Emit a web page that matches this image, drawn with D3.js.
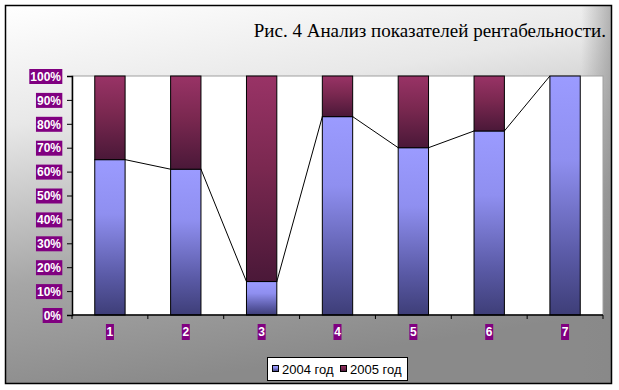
<!DOCTYPE html>
<html>
<head>
<meta charset="utf-8">
<script src="https://cdn.jsdelivr.net/npm/d3@7"></script>
<style>
  body { margin: 0; background: #fff; }
</style>
</head>
<body>
<script>
var categories = ["1", "2", "3", "4", "5", "6", "7"];
var v2004 = [65, 61, 14, 83, 70, 77, 100];
var v2005 = [35, 39, 86, 17, 30, 23, 0];
var seriesNames = ["2004 год", "2005 год"];
var yTicks = [0, 10, 20, 30, 40, 50, 60, 70, 80, 90, 100];

var w = 619, h = 390;
var pLeft = 72, pRight = 603, pTop = 76, pBottom = 315;

var svg = d3.select("body").append("svg")
    .attr("width", w)
    .attr("height", h);

var defs = svg.append("defs");

var bg = defs.append("linearGradient").attr("id", "bg")
    .attr("x1", 0).attr("y1", 0).attr("x2", 0.25).attr("y2", 1);
bg.append("stop").attr("offset", "0").attr("stop-color", "#ffffff");
bg.append("stop").attr("offset", "0.3").attr("stop-color", "#e8e8e8");
bg.append("stop").attr("offset", "0.7").attr("stop-color", "#a6a6a6");
bg.append("stop").attr("offset", "1").attr("stop-color", "#8a8a8a");

// darker towards the right edge
var bgR = defs.append("linearGradient").attr("id", "bgR")
    .attr("x1", 0).attr("y1", 0).attr("x2", 1).attr("y2", 0);
bgR.append("stop").attr("offset", "0.95").attr("stop-color", "#888").attr("stop-opacity", 0);
bgR.append("stop").attr("offset", "1").attr("stop-color", "#888").attr("stop-opacity", 0.6);

var g1 = defs.append("linearGradient").attr("id", "g2004")
    .attr("x1", 0).attr("y1", 0).attr("x2", 0).attr("y2", 1);
g1.append("stop").attr("offset", "0").attr("stop-color", "#9b9bff");
g1.append("stop").attr("offset", "0.35").attr("stop-color", "#8f8ff0");
g1.append("stop").attr("offset", "0.75").attr("stop-color", "#5a5aa6");
g1.append("stop").attr("offset", "1").attr("stop-color", "#3e3e78");

var g2 = defs.append("linearGradient").attr("id", "g2005")
    .attr("x1", 0).attr("y1", 0).attr("x2", 0).attr("y2", 1);
g2.append("stop").attr("offset", "0").attr("stop-color", "#993366");
g2.append("stop").attr("offset", "0.45").attr("stop-color", "#7a2850");
g2.append("stop").attr("offset", "1").attr("stop-color", "#4a1838");

// chart area
svg.append("rect")
    .attr("x", 5.5).attr("y", 5.5)
    .attr("width", 606).attr("height", 378)
    .attr("fill", "url(#bg)");
svg.append("rect")
    .attr("x", 5.5).attr("y", 5.5)
    .attr("width", 606).attr("height", 378)
    .attr("fill", "url(#bgR)")
    .attr("stroke", "#000")
    .attr("stroke-width", 1.5);

svg.append("text")
    .attr("x", 606)
    .attr("y", 37)
    .attr("text-anchor", "end")
    .attr("font-family", "'Liberation Serif', 'Times New Roman', serif")
    .attr("font-size", "19px")
    .attr("fill", "#000")
    .text("Рис. 4 Анализ показателей рентабельности.");

var xScale = d3.scaleBand()
    .domain(categories)
    .range([pLeft, pRight])
    .paddingInner(0.6)
    .paddingOuter(0.3);

var yScale = d3.scaleLinear()
    .domain([0, 100])
    .range([pBottom, pTop]);

// plot area
svg.append("rect")
    .attr("x", pLeft).attr("y", pTop)
    .attr("width", pRight - pLeft).attr("height", pBottom - pTop)
    .attr("fill", "#fff")
    .attr("stroke", "#a0a0a0")
    .attr("stroke-width", 1);

var data = categories.map(function(c, i) {
    return { cat: c, a: v2004[i], b: v2005[i] };
});

// 2004
svg.selectAll("rect.s1")
   .data(data)
   .enter()
   .append("rect")
   .attr("class", "s1")
   .attr("x", function(d) { return xScale(d.cat); })
   .attr("y", function(d) { return yScale(d.a); })
   .attr("width", xScale.bandwidth())
   .attr("height", function(d) { return pBottom - yScale(d.a); })
   .attr("fill", "url(#g2004)")
   .attr("stroke", "#000")
   .attr("stroke-width", 1);

// 2005
svg.selectAll("rect.s2")
   .data(data.filter(function(d) { return d.b > 0; }))
   .enter()
   .append("rect")
   .attr("class", "s2")
   .attr("x", function(d) { return xScale(d.cat); })
   .attr("y", function(d) { return yScale(d.a + d.b); })
   .attr("width", xScale.bandwidth())
   .attr("height", function(d) { return yScale(d.a) - yScale(d.a + d.b); })
   .attr("fill", "url(#g2005)")
   .attr("stroke", "#000")
   .attr("stroke-width", 1);

// series lines
for (var i = 0; i < data.length - 1; i++) {
    svg.append("line")
       .attr("x1", xScale(data[i].cat) + xScale.bandwidth())
       .attr("y1", yScale(data[i].a))
       .attr("x2", xScale(data[i + 1].cat))
       .attr("y2", yScale(data[i + 1].a))
       .attr("stroke", "#000")
       .attr("stroke-width", 1);
}

// axes
var yAxis = d3.axisLeft(yScale)
    .tickValues(yTicks)
    .tickSize(5)
    .tickFormat(function(d) { return d + "%"; });

var yg = svg.append("g")
    .attr("transform", "translate(" + pLeft + ",0)")
    .call(yAxis);
yg.select(".domain").attr("stroke", "#000").attr("stroke-width", 1.5);
yg.selectAll(".tick line").attr("stroke", "#000");
yg.selectAll(".tick text").remove();

yg.selectAll(".tick").each(function(d) {
    var t = d3.select(this);
    var label = t.append("text")
        .attr("x", -11)
        .attr("dy", "0.35em")
        .attr("text-anchor", "end")
        .attr("font-family", "Arial, 'Liberation Sans', sans-serif")
        .attr("font-weight", "bold")
        .attr("font-size", "12px")
        .attr("fill", "#fff")
        .text(d + "%");
    var bb = label.node().getBBox();
    t.insert("rect", "text")
        .attr("x", bb.x - 1)
        .attr("y", -7.5)
        .attr("width", bb.width + 2)
        .attr("height", 15)
        .attr("fill", "#800080");
});

var bounds = [0, 1, 2, 3, 4, 5, 6, 7].map(function(k) {
    return pLeft + k * xScale.step();
});
svg.append("line")
   .attr("x1", pLeft).attr("x2", pRight)
   .attr("y1", pBottom).attr("y2", pBottom)
   .attr("stroke", "#000").attr("stroke-width", 1.5);
svg.selectAll("line.xt")
   .data(bounds)
   .enter()
   .append("line")
   .attr("class", "xt")
   .attr("x1", function(d) { return d; })
   .attr("x2", function(d) { return d; })
   .attr("y1", pBottom)
   .attr("y2", pBottom + 4)
   .attr("stroke", "#000");

var xl = svg.selectAll("g.xl")
   .data(categories)
   .enter()
   .append("g")
   .attr("class", "xl")
   .attr("transform", function(d) {
       return "translate(" + (xScale(d) + xScale.bandwidth() / 2) + ",332)";
   });
xl.append("rect")
   .attr("x", -4).attr("y", -8)
   .attr("width", 8).attr("height", 16)
   .attr("fill", "#800080");
xl.append("text")
   .attr("text-anchor", "middle")
   .attr("dy", "0.35em")
   .attr("font-family", "Arial, 'Liberation Sans', sans-serif")
   .attr("font-weight", "bold")
   .attr("font-size", "12px")
   .attr("fill", "#fff")
   .text(function(d) { return d; });

// legend
var lg = svg.append("g").attr("transform", "translate(267,357)");
lg.append("rect")
   .attr("x", 0.5).attr("y", 0.5)
   .attr("width", 140).attr("height", 23)
   .attr("fill", "#fff")
   .attr("stroke", "#000");
var items = lg.selectAll("g.li")
   .data(seriesNames)
   .enter()
   .append("g")
   .attr("class", "li")
   .attr("transform", function(d, i) { return "translate(" + (5 + i * 68) + ",0)"; });
items.append("rect")
   .attr("x", 0.5).attr("y", 8.5)
   .attr("width", 6).attr("height", 6)
   .attr("fill", function(d, i) { return i === 0 ? "url(#g2004)" : "url(#g2005)"; })
   .attr("stroke", "#000");
items.append("text")
   .attr("x", 10)
   .attr("y", 17)
   .attr("font-family", "Arial, 'Liberation Sans', sans-serif")
   .attr("font-size", "13px")
   .attr("fill", "#000")
   .text(function(d) { return d; });
</script>
</body>
</html>
